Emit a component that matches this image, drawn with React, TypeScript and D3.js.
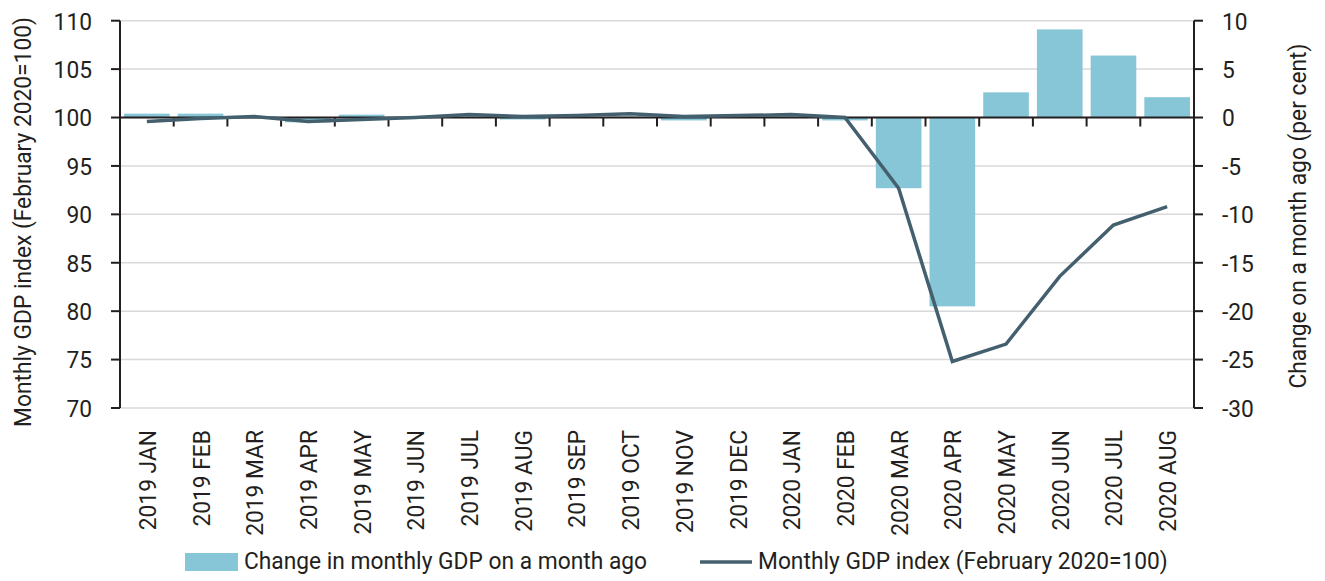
import React from "react";
import * as d3 from "d3";

const categories = [
  "2019 JAN", "2019 FEB", "2019 MAR", "2019 APR", "2019 MAY", "2019 JUN",
  "2019 JUL", "2019 AUG", "2019 SEP", "2019 OCT", "2019 NOV", "2019 DEC",
  "2020 JAN", "2020 FEB", "2020 MAR", "2020 APR", "2020 MAY", "2020 JUN",
  "2020 JUL", "2020 AUG",
];
const monthlyChange = [
  0.4, 0.4, 0.1, -0.5, 0.3, 0.0, 0.1, -0.2, 0.1, 0.1, -0.3, 0.1,
  0.1, -0.3, -7.3, -19.5, 2.6, 9.1, 6.4, 2.1,
];
const gdpIndex = [
  99.6, 99.9, 100.1, 99.6, 99.8, 100.0, 100.3, 100.1, 100.2, 100.4, 100.1, 100.2,
  100.3, 100.0, 92.7, 74.8, 76.6, 83.6, 88.9, 90.8,
];
const leftTicks = [70, 75, 80, 85, 90, 95, 100, 105, 110];
const rightTicks = [-30, -25, -20, -15, -10, -5, 0, 5, 10];
const leftTitle = "Monthly GDP index (February 2020=100)";
const rightTitle = "Change on a month ago (per cent)";
const barLegend = "Change in monthly GDP on a month ago";
const lineLegend = "Monthly GDP index (February 2020=100)";

const W = 1325, H = 581;
const X0 = 120, X1 = 1194, YT = 20.7, YB = 408;
const FONT = "Roboto, 'DejaVu Sans Condensed', sans-serif";
const FS = 24.5;
const SX = 0.93;
const BAR = "#87c6d6";
const LINE = "#44606f";
const TXT = "#231f20";
const GRID = "#d9d9d9";

export default function App() {
  const x = d3.scaleBand<string>().domain(categories).range([X0, X1]).paddingInner(0.15).paddingOuter(0.075);
  const yL = d3.scaleLinear().domain([70, 110]).range([YB, YT]);
  const yR = d3.scaleLinear().domain([-30, 10]).range([YB, YT]);
  const step = x.step();
  const line = d3.line<number>()
    .x((_, i) => (x(categories[i]) as number) + x.bandwidth() / 2)
    .y((d) => yL(d));
  const y0 = yR(0);
  const boundaries = d3.range(1, categories.length).map((k) => X0 + k * step);

  return (
    <div style={{ position: "fixed", left: 0, top: 0 }}>
      <svg width={W} height={H} style={{ display: "block", fontFamily: FONT }}>
        <rect width={W} height={H} fill="#fff" />
        {leftTicks.map((t) => (
          <line key={"g" + t} x1={X0} x2={X1} y1={yL(t)} y2={yL(t)} stroke={GRID} strokeWidth={1.5} />
        ))}
        {monthlyChange.map((v, i) => (
          <rect key={"b" + i} x={x(categories[i])} width={x.bandwidth()}
            y={Math.min(yR(v), y0)} height={Math.abs(yR(v) - y0)} fill={BAR} />
        ))}
        <line x1={X0} x2={X1} y1={y0} y2={y0} stroke={TXT} strokeWidth={2} />
        {boundaries.map((bx, k) => (
          <line key={"t" + k} x1={bx} x2={bx} y1={y0} y2={y0 + 9} stroke={TXT} strokeWidth={2} />
        ))}
        <path d={line(gdpIndex) as string} fill="none" stroke={LINE} strokeWidth={3.5} strokeLinejoin="miter" />
        {/* left axis */}
        <line x1={X0} x2={X0} y1={YT} y2={YB} stroke={TXT} strokeWidth={2} />
        {leftTicks.map((t) => (
          <g key={"l" + t}>
            <line x1={X0 - 9} x2={X0} y1={yL(t)} y2={yL(t)} stroke={TXT} strokeWidth={2} />
            <text transform={`translate(${X0 - 28},${yL(t)}) scale(${SX},1)`} dy="0.36em" textAnchor="end" fontSize={FS} fill={TXT}>{t}</text>
          </g>
        ))}
        {/* right axis */}
        <line x1={X1} x2={X1} y1={YT} y2={YB} stroke={TXT} strokeWidth={2} />
        {rightTicks.map((t) => (
          <g key={"r" + t}>
            <line x1={X1} x2={X1 + 9} y1={yR(t)} y2={yR(t)} stroke={TXT} strokeWidth={2} />
            <text transform={`translate(${X1 + 28},${yR(t)}) scale(${SX},1)`} dy="0.36em" textAnchor="start" fontSize={FS} fill={TXT}>{t}</text>
          </g>
        ))}
        {/* x labels */}
        {categories.map((c) => {
          const cx = (x(c) as number) + x.bandwidth() / 2;
          return (
            <text key={"x" + c} transform={`translate(${cx + 9},430) rotate(-90) scale(${SX},1)`} textAnchor="end"
              fontSize={FS} fill={TXT}>{c}</text>
          );
        })}
        <text transform={`translate(31,222) rotate(-90) scale(${SX},1)`} textAnchor="middle" fontSize={FS} fill={TXT}>{leftTitle}</text>
        <text transform={`translate(1306,216) rotate(-90) scale(${SX},1)`} textAnchor="middle" fontSize={FS} fill={TXT}>{rightTitle}</text>
        {/* legend */}
        <rect x={185} y={553} width={53} height={18} fill={BAR} />
        <text transform={`translate(244,569) scale(${SX},1)`} fontSize={FS} fill={TXT}>{barLegend}</text>
        <line x1={700} x2={752} y1={562} y2={562} stroke={LINE} strokeWidth={3.5} />
        <text transform={`translate(758,569) scale(${SX},1)`} fontSize={FS} fill={TXT}>{lineLegend}</text>
      </svg>
    </div>
  );
}
